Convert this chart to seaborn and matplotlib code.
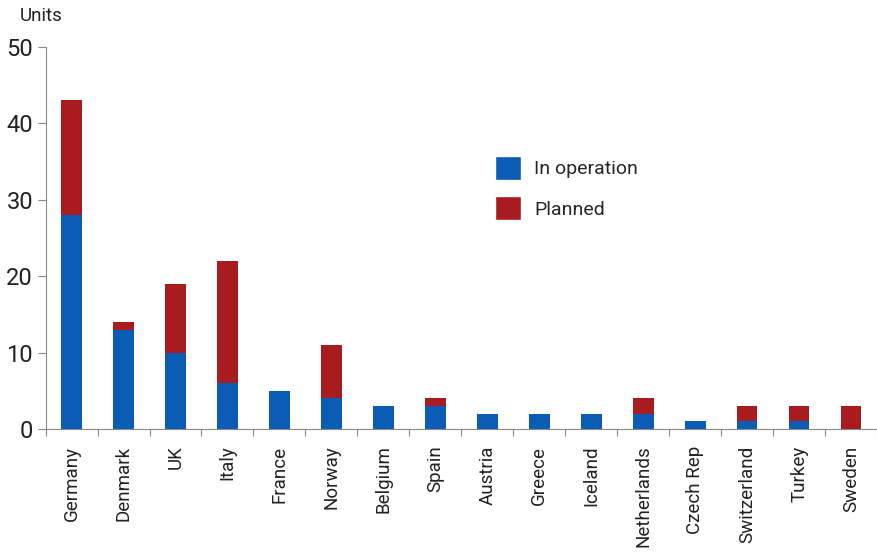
import matplotlib
matplotlib.use("Agg")
import matplotlib.pyplot as plt
import seaborn as sns
import pandas as pd
import numpy as np
from matplotlib.patches import Patch
from matplotlib.ticker import FixedLocator

countries = ["Germany", "Denmark", "UK", "Italy", "France", "Norway", "Belgium", "Spain",
             "Austria", "Greece", "Iceland", "Netherlands", "Czech Rep", "Switzerland", "Turkey", "Sweden"]
in_operation = [28, 13, 10, 6, 5, 4, 3, 3, 2, 2, 2, 2, 1, 1, 1, 0]
planned = [15, 1, 9, 16, 0, 7, 0, 1, 0, 0, 0, 2, 0, 2, 2, 3]
yticks = [0, 10, 20, 30, 40, 50]

BLUE = "#0B5CB5"
RED = "#A81C20"

sns.set_theme(style="white")
plt.rcParams['font.family'] = ['Roboto', 'DejaVu Sans']

df = pd.DataFrame({"country": countries, "op": in_operation, "pl": planned})
df["total"] = df["op"] + df["pl"]

fig = plt.figure(figsize=(8.77, 5.52), dpi=100)
ax = fig.add_axes([0.052, 0.223, 0.948, 0.692])

sns.barplot(data=df, x="country", y="total", color=RED, width=0.4, saturation=1, ax=ax, linewidth=0)
sns.barplot(data=df, x="country", y="op", color=BLUE, width=0.4, saturation=1, ax=ax, linewidth=0)

ax.set_xlim(-0.5, len(countries) - 0.5)
ax.set_ylim(0, 50)
ax.set_yticks(yticks)
ax.set_xlabel("")
ax.set_ylabel("")
ax.set_xticks(range(len(countries)))
ax.set_xticklabels(countries, rotation=90, fontsize=13.5, color="#222222")
ax.xaxis.set_minor_locator(FixedLocator(np.arange(-0.5, len(countries), 1.0)))
ax.tick_params(axis="x", which="major", length=0, pad=12)
ax.tick_params(axis="x", which="minor", length=5, width=0.8, color="#888888", bottom=True)
ax.tick_params(axis="y", which="major", length=6, width=0.8, color="#888888", left=True,
               labelsize=17, labelcolor="#222222", pad=3)

for s in ["top", "right"]:
    ax.spines[s].set_visible(False)
for s in ["left", "bottom"]:
    ax.spines[s].set_color("#888888")
    ax.spines[s].set_linewidth(0.8)

fig.text(0.023, 0.955, "Units", fontsize=13.5, color="#222222", ha="left", va="bottom")

handles = [Patch(facecolor=BLUE, label="In operation"), Patch(facecolor=RED, label="Planned")]
ax.legend(handles=handles, loc="upper left", bbox_to_anchor=(0.52, 0.76), frameon=False,
          fontsize=14, handlelength=1.3, handleheight=1.5, handletextpad=0.7, labelspacing=0.85)

fig.savefig("out.png", dpi=100)
